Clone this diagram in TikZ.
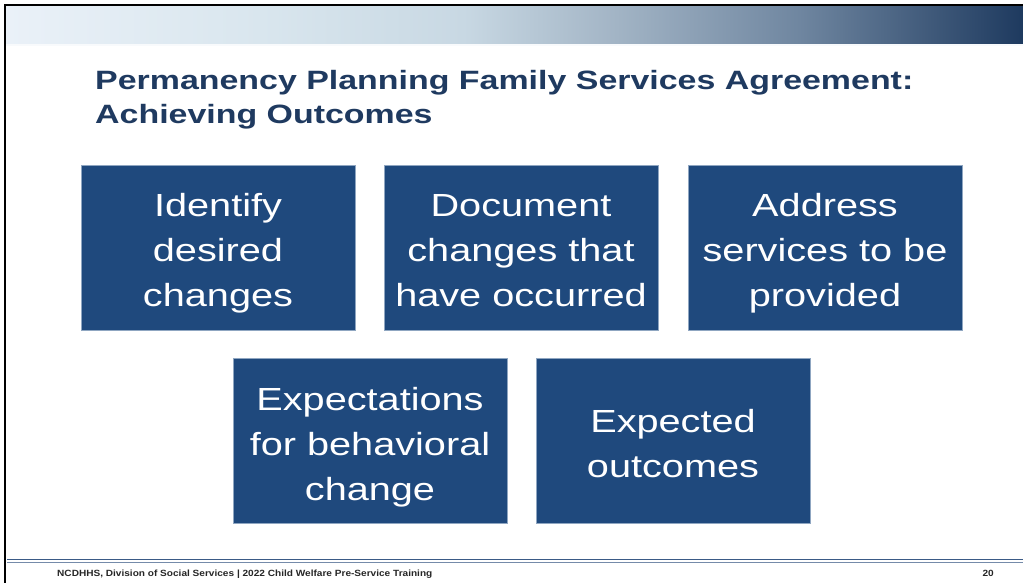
\documentclass[tikz,border=0pt]{standalone}
\usepackage{fontspec}
\setmainfont{Liberation Sans}
\definecolor{boxblue}{HTML}{1F497D}
\definecolor{boxedge}{HTML}{8FA6C1}
\definecolor{titleblue}{HTML}{1F3A60}
\definecolor{footline}{HTML}{3A5A86}
\definecolor{gA}{HTML}{EAF1F8}
\definecolor{gB}{HTML}{D9E6EE}
\definecolor{gC}{HTML}{C8D8E3}
\definecolor{gD}{HTML}{A2B4C5}
\definecolor{gE}{HTML}{6F86A0}
\definecolor{gF}{HTML}{1E3A5F}
\pgfdeclarehorizontalshading{bandshade}{100bp}{color(0bp)=(gA); color(25bp)=(gA); color(37.5bp)=(gB); color(47.5bp)=(gC); color(55bp)=(gD); color(64bp)=(gE); color(75bp)=(gF); color(100bp)=(gF)}
\newcommand{\boxlines}[1]{\raisebox{-5pt}[\height][\depth]{\scalebox{1.24}[1]{\begin{tabular}{@{}c@{}}#1\end{tabular}}}}
\newcommand{\widetext}[2]{\scalebox{#1}[1]{#2}}
\tikzset{
  outcomebox/.style={rectangle, minimum width=274pt, minimum height=165pt, inner sep=0pt,
    fill=boxblue, draw=boxedge, line width=0.6pt, text=white, align=center,
    font=\fontsize{32}{45}\selectfont},
  titletext/.style={anchor=base west, inner sep=0pt, text=titleblue,
    font=\fontsize{26.5}{30}\selectfont\bfseries},
  foottext/.style={inner sep=0pt, text=black!85, font=\fontsize{9}{10}\selectfont\bfseries}
}
\begin{document}
\begin{tikzpicture}[x=1pt,y=-1pt]
\useasboundingbox (0,0) rectangle (1023,582);
\fill[white] (0,0) rectangle (1023,582);
% header gradient band
\shade[shading=bandshade] (6,6) rectangle (1023,45);
\fill[white!88!gC] (6,44) rectangle (1023,46);
% frame lines
\draw[line width=2.2pt, line cap=rect] (5,582) -- (5,5) -- (1023,5);
% title
\node[titletext] (t1) at (95,89) {\widetext{1.28}{Permanency Planning Family Services Agreement:}};
\node[titletext] (t2) at (95,123) {\widetext{1.28}{Achieving Outcomes}};
% boxes
\node[outcomebox] (b1) at (218,247.5) {\boxlines{Identify\\desired\\changes}};
\node[outcomebox] (b2) at (521,247.5) {\boxlines{Document\\changes that\\have occurred}};
\node[outcomebox] (b3) at (825,247.5) {\boxlines{Address\\services to be\\provided}};
\node[outcomebox] (b4) at (370,441) {\boxlines{Expectations\\for behavioral\\change}};
\node[outcomebox] (b5) at (673,441) {\boxlines{Expected\\outcomes}};
% footer
\draw[footline, line width=0.8pt] (7,559.8) -- (1023,559.8);
\draw[footline!70, line width=0.8pt] (7,562) -- (1023,562);
\node[foottext, anchor=base west] (f1) at (57,576) {\widetext{1.12}{NCDHHS, Division of Social Services | 2022 Child Welfare Pre-Service Training}};
\node[foottext, anchor=base east] (f2) at (994,576) {\widetext{1.12}{20}};
\end{tikzpicture}
\end{document}
